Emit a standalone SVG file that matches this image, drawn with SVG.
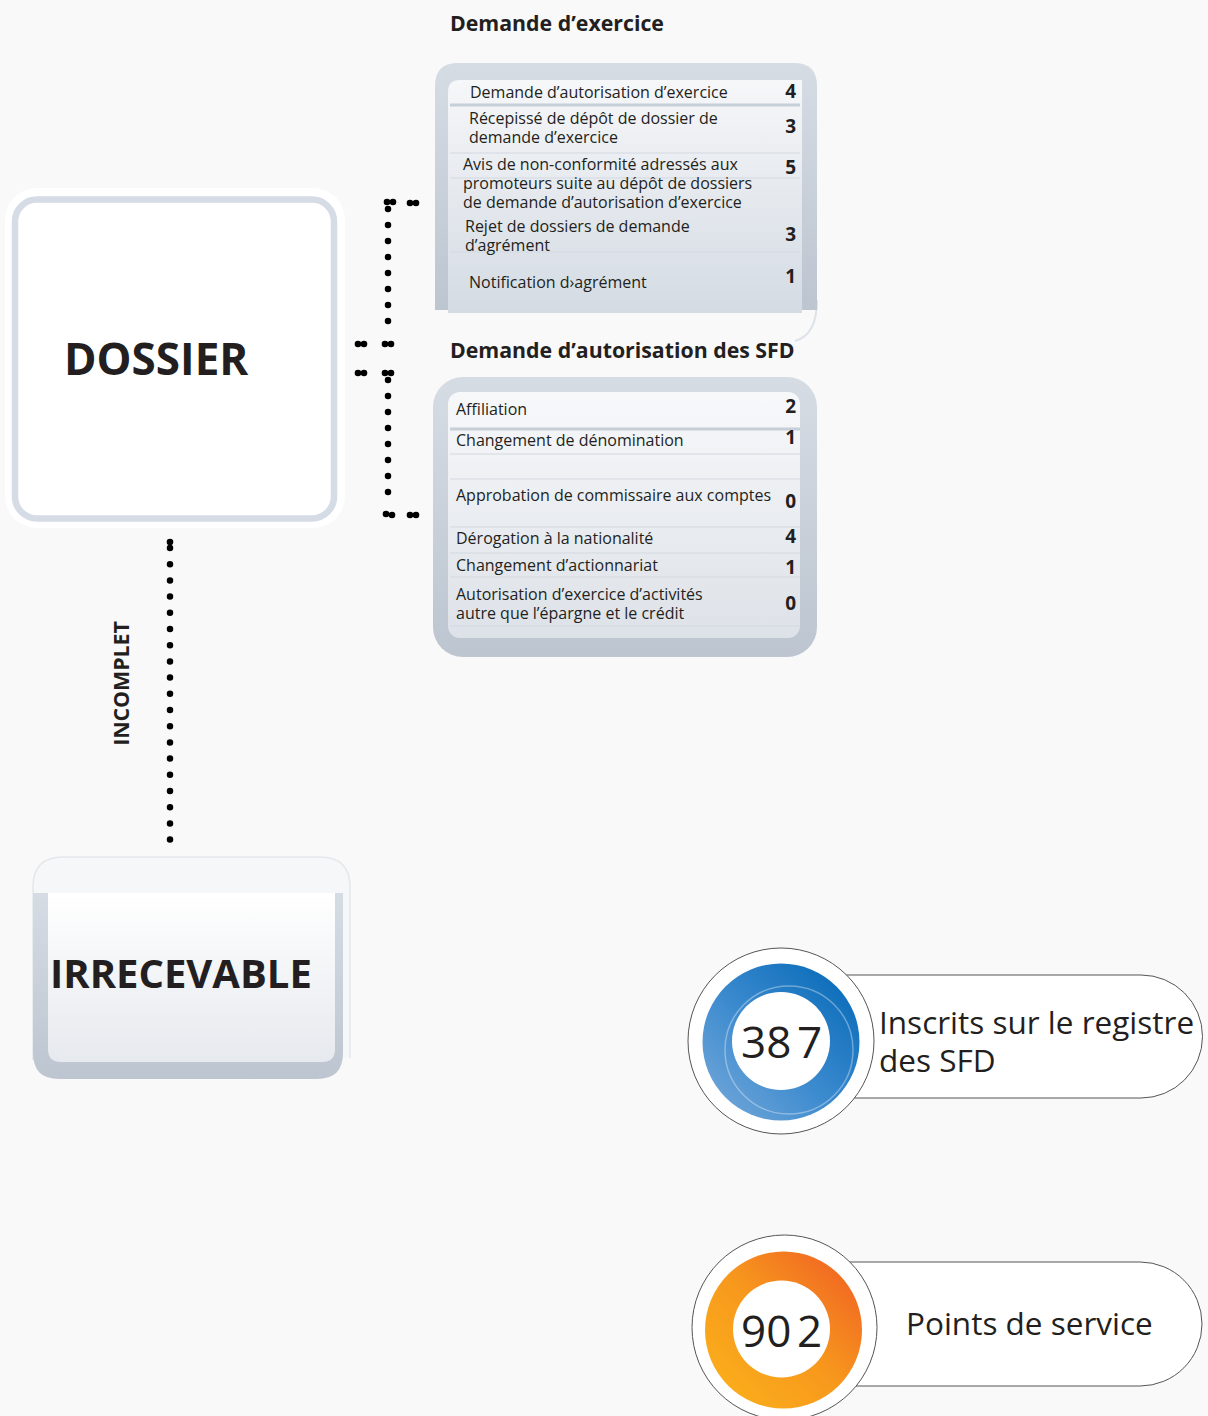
<svg xmlns="http://www.w3.org/2000/svg" width="1208" height="1416" viewBox="0 0 1208 1416">
<defs>
<style>
.t{font-family:"Open Sans","Noto Sans","Liberation Sans",sans-serif;fill:#231f20}
.row{font-size:16px}
.num{font-size:19px;font-weight:700;text-anchor:end}
.title{font-size:21.3px;font-weight:700}
.sep{stroke:#d3d9e1;stroke-width:1}
.sepb{stroke:#c6ced8;stroke-width:3}
.dot{fill:#000}
.dl{stroke:#000;stroke-width:6.5;stroke-linecap:round;fill:none}
.big{font-size:31.5px}
.digits{font-size:44px}
.pill{fill:#fff;stroke:#555;stroke-width:1}
</style>
<linearGradient id="frame" x1="0" y1="0" x2="0" y2="1">
<stop offset="0" stop-color="#d6dce4"/>
<stop offset="1" stop-color="#bcc5d0"/>
</linearGradient>
<linearGradient id="inner" x1="0" y1="0" x2="0" y2="1">
<stop offset="0" stop-color="#f6f7f9"/>
<stop offset="1" stop-color="#d4dbe3"/>
</linearGradient>
<linearGradient id="inner2" x1="0" y1="0" x2="0" y2="1">
<stop offset="0" stop-color="#f7f8fa"/>
<stop offset="1" stop-color="#dde2e8"/>
</linearGradient>
<linearGradient id="innerI" x1="0" y1="0" x2="0" y2="1">
<stop offset="0" stop-color="#ffffff"/>
<stop offset="1" stop-color="#e6e9ee"/>
</linearGradient>
<linearGradient id="blue" x1="0" y1="1" x2="1" y2="0">
<stop offset="0" stop-color="#7aabda"/>
<stop offset="0.45" stop-color="#3d8bcf"/>
<stop offset="1" stop-color="#0066b5"/>
</linearGradient>
<linearGradient id="orange" x1="0" y1="1" x2="1" y2="0">
<stop offset="0" stop-color="#fbb31a"/>
<stop offset="0.5" stop-color="#f7981d"/>
<stop offset="1" stop-color="#ef5b24"/>
</linearGradient>
<clipPath id="ringclip"><circle cx="781" cy="1042" r="78.5"/></clipPath>
</defs>
<rect width="1208" height="1416" fill="#f9f9f9"/>

<!-- titles -->
<text class="t title" x="450" y="31">Demande d’exercice</text>
<text class="t title" x="450" y="358">Demande d’autorisation des SFD</text>

<!-- Panel: Demande d'exercice -->
<g id="panel-exercice">
<path d="M817 300 Q817 335 795 341" fill="none" stroke="#dde2e8" stroke-width="2"/>
<path d="M435 310 V86 Q435 63 458 63 H794 Q817 63 817 86 V310 Z" fill="url(#frame)"/>
<path d="M448 313 V92 Q448 80 460 80 H802 V313 Z" fill="url(#inner)"/>
<line class="sepb" x1="450" y1="105" x2="800" y2="105"/>
<line class="sep" x1="450" y1="153" x2="800" y2="153"/>
<line class="sep" x1="450" y1="178" x2="800" y2="178"/>
<line class="sep" x1="450" y1="252" x2="800" y2="252"/>
<text class="t row" x="470" y="98">Demande d’autorisation d’exercice</text>
<text class="t num" x="796" y="98">4</text>
<text class="t row" x="469" y="124">Récepissé de dépôt de dossier de</text>
<text class="t row" x="469" y="143">demande d’exercice</text>
<text class="t num" x="796" y="133">3</text>
<text class="t row" x="463" y="170">Avis de non-conformité adressés aux</text>
<text class="t row" x="463" y="189">promoteurs suite au dépôt de dossiers</text>
<text class="t row" x="463" y="208">de demande d’autorisation d’exercice</text>
<text class="t num" x="796" y="174">5</text>
<text class="t row" x="465" y="232">Rejet de dossiers de demande</text>
<text class="t row" x="465" y="251">d’agrément</text>
<text class="t num" x="796" y="241">3</text>
<text class="t row" x="469" y="288">Notification d›agrément</text>
<text class="t num" x="796" y="283">1</text>
</g>

<!-- Panel: Demande d'autorisation des SFD -->
<g id="panel-sfd">
<rect x="433" y="377" width="384" height="280" rx="30" fill="url(#frame)"/>
<rect x="448" y="392" width="352" height="246" rx="12" fill="url(#inner2)"/>
<line class="sepb" x1="450" y1="429" x2="800" y2="429"/>
<line class="sep" x1="450" y1="454" x2="800" y2="454"/>
<line class="sep" x1="450" y1="479" x2="800" y2="479"/>
<line class="sep" x1="450" y1="527" x2="800" y2="527"/>
<line class="sep" x1="450" y1="553" x2="800" y2="553"/>
<line class="sep" x1="450" y1="577" x2="800" y2="577"/>
<line class="sep" x1="450" y1="626" x2="800" y2="626"/>
<text class="t row" x="456" y="415">Affiliation</text>
<text class="t num" x="796" y="413">2</text>
<text class="t row" x="456" y="446">Changement de dénomination</text>
<text class="t num" x="796" y="444">1</text>
<text class="t row" x="456" y="501">Approbation de commissaire aux comptes</text>
<text class="t num" x="796" y="508">0</text>
<text class="t row" x="456" y="544">Dérogation à la nationalité</text>
<text class="t num" x="796" y="543">4</text>
<text class="t row" x="456" y="571">Changement d’actionnariat</text>
<text class="t num" x="796" y="574">1</text>
<text class="t row" x="456" y="600">Autorisation d’exercice d’activités</text>
<text class="t row" x="456" y="619">autre que l’épargne et le crédit</text>
<text class="t num" x="796" y="610">0</text>
</g>

<!-- DOSSIER node -->
<g id="node-dossier">
<rect x="5" y="188" width="340" height="340" rx="32" fill="#ffffff"/>
<rect x="15" y="199.5" width="319" height="319" rx="22" fill="#ffffff" stroke="#d5dce5" stroke-width="6.5"/>
<text class="t" x="64" y="375" font-size="44" font-weight="700">DOSSIER</text>
</g>

<!-- IRRECEVABLE node -->
<g id="node-irrecevable">
<path d="M33 1060 V887 Q33 857 63 857 H320 Q350 857 350 887 V1058" fill="#f6f7f8" stroke="#e4e7eb" stroke-width="1.5"/>
<path d="M33 893 H343 V1053 Q343 1079 317 1079 H59 Q33 1079 33 1053 Z" fill="url(#frame)"/>
<path d="M48 893 H335 V1049 Q335 1062 322 1062 H61 Q48 1062 48 1049 Z" fill="url(#innerI)"/>
<text class="t" x="50" y="988" font-size="40" font-weight="700">IRRECEVABLE</text>
</g>

<!-- connectors -->
<g id="connectors">
<path class="dl" d="M388 209 V337" stroke-dasharray="0 16"/>
<path class="dl" d="M388 380 V508" stroke-dasharray="0 16"/>
<circle class="dot" cx="387" cy="202" r="3.3"/>
<circle class="dot" cx="393" cy="202" r="3.3"/>
<circle class="dot" cx="410" cy="203" r="3.3"/>
<circle class="dot" cx="416" cy="203" r="3.3"/>
<circle class="dot" cx="385" cy="344" r="3.3"/>
<circle class="dot" cx="391" cy="344" r="3.3"/>
<circle class="dot" cx="358" cy="344" r="3.3"/>
<circle class="dot" cx="364" cy="344" r="3.3"/>
<circle class="dot" cx="358" cy="373" r="3.3"/>
<circle class="dot" cx="364" cy="373" r="3.3"/>
<circle class="dot" cx="385" cy="373" r="3.3"/>
<circle class="dot" cx="391" cy="373" r="3.3"/>
<circle class="dot" cx="386" cy="514" r="3.3"/>
<circle class="dot" cx="392" cy="515" r="3.3"/>
<circle class="dot" cx="410" cy="515" r="3.3"/>
<circle class="dot" cx="416" cy="515" r="3.3"/>
<path class="dl" d="M170 548 V840" stroke-dasharray="0 16.2"/>
<circle class="dot" cx="170" cy="542" r="3.3"/>
<text class="t" transform="translate(129 683.5) rotate(-90)" text-anchor="middle" font-size="21.3" font-weight="700">INCOMPLET</text>
</g>

<!-- stat 387 -->
<g id="stat-387">
<path class="pill" d="M845 975 H1141 A61.5 61.5 0 0 1 1141 1098 H845 Z"/>
<circle cx="781" cy="1041" r="93" fill="#ffffff" stroke="#555" stroke-width="1"/>
<circle cx="781" cy="1042" r="78.5" fill="url(#blue)"/>
<g clip-path="url(#ringclip)">
<circle cx="789" cy="1050" r="64" fill="none" stroke="#ffffff" stroke-opacity="0.35" stroke-width="1.5"/>
</g>
<circle cx="781" cy="1041" r="49" fill="#ffffff"/>
<text class="t digits" x="741" y="1058">38</text>
<text class="t digits" x="797" y="1058">7</text>
<text class="t big" x="879" y="1034">Inscrits sur le registre</text>
<text class="t big" x="879" y="1072">des SFD</text>
</g>

<!-- stat 902 -->
<g id="stat-902">
<path class="pill" d="M845 1262 H1140 A62 62 0 0 1 1140 1386 H845 Z"/>
<circle cx="784.5" cy="1327.5" r="92.5" fill="#ffffff" stroke="#555" stroke-width="1"/>
<circle cx="783.5" cy="1330" r="78.5" fill="url(#orange)"/>
<circle cx="781.5" cy="1329" r="48.5" fill="#ffffff"/>
<text class="t digits" x="741" y="1347">90</text>
<text class="t digits" x="797" y="1347">2</text>
<text class="t big" x="906" y="1335">Points de service</text>
</g>
</svg>
